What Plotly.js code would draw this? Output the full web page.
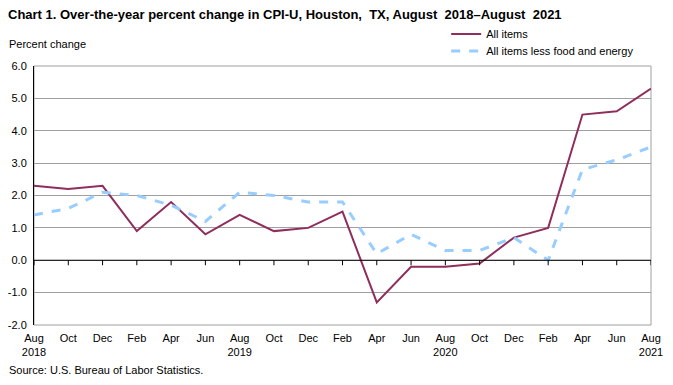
<!DOCTYPE html>
<html><head><meta charset="utf-8">
<script src="https://cdn.plot.ly/plotly-3.0.1.min.js"></script>
<style>html,body{margin:0;padding:0;background:#fff}#chart{width:673px;height:385px}</style>
</head><body><div id="chart"></div>
<script>
const months = ["Aug","Oct","Dec","Feb","Apr","Jun","Aug","Oct","Dec","Feb","Apr","Jun","Aug","Oct","Dec","Feb","Apr","Jun","Aug"];
const years  = ["2018","","","","","","2019","","","","","","2020","","","","","","2021"];
const allItems = [2.3,2.2,2.3,0.9,1.8,0.8,1.4,0.9,1.0,1.5,-1.3,-0.2,-0.2,-0.1,0.7,1.0,4.5,4.6,5.3];
const core     = [1.4,1.6,2.1,2.0,1.7,1.2,2.1,2.0,1.8,1.8,0.2,0.8,0.3,0.3,0.7,0.0,2.8,3.1,3.5];
const yTicks = [-2,-1,0,1,2,3,4,5,6];

const idx = months.map((_, i) => i);
const tickText = months.map((m, i) => years[i] ? m + "<br>" + years[i] : m);

const font = {family: "Liberation Sans, Arial, sans-serif", size: 11, color: "#000"};

const traces = [
  {x: idx, y: allItems, name: "All items", mode: "lines", type: "scatter",
   line: {color: "#8f2d5c", width: 2}, legend: "legend"},
  {x: idx, y: core, name: "All items less food and energy", mode: "lines", type: "scatter",
   line: {color: "#99ccff", width: 3, dash: "dash"}, legend: "legend2"}
];

const shapes = [
  {type: "rect", xref: "paper", yref: "paper", x0: 0, x1: 1, y0: 0, y1: 1,
   line: {color: "#a0a0a0", width: 1}, layer: "below"},
  {type: "line", xref: "paper", yref: "y", x0: 0, x1: 1, y0: 0, y1: 0,
   line: {color: "#000", width: 1}}
];
idx.forEach(i => {
  shapes.push({type: "line", xref: "x", yref: "y", ysizemode: "pixel", yanchor: 0,
    x0: i, x1: i, y0: 0, y1: -5, line: {color: "#000", width: 1}});
});

const legendBase = {x: 0.668, xanchor: "left", yanchor: "middle", bgcolor: "rgba(0,0,0,0)",
  font: {family: font.family, size: 11, color: "#000"}, borderwidth: 0};

const layout = {
  width: 673, height: 385,
  margin: {l: 34, r: 22, t: 66, b: 60, autoexpand: false},
  paper_bgcolor: "#fff", plot_bgcolor: "#fff",
  font: font,
  showlegend: true,
  legend: Object.assign({}, legendBase, {y: 1 + (66 - 34) / 259}),
  legend2: Object.assign({}, legendBase, {y: 1 + (66 - 51) / 259}),
  title: {text: "<b>Chart 1. Over-the-year percent change in CPI-U, Houston,  TX, August  2018–August  2021</b>",
    x: 8/673, xanchor: "left", xref: "container", y: 1 - 14/385, yref: "container", yanchor: "middle",
    font: {family: "Liberation Sans, Arial, sans-serif", size: 13, color: "#000"}},
  xaxis: {range: [0, 18], tickmode: "array", tickvals: idx, ticktext: tickText,
    showgrid: false, zeroline: false, showline: false, ticks: "",
    ticklabelstandoff: 5, tickfont: font, fixedrange: true},
  yaxis: {range: [-2, 6], tickmode: "array", tickvals: yTicks,
    ticktext: yTicks.map(v => v.toFixed(1)),
    showgrid: true, gridcolor: "#a0a0a0", gridwidth: 1, zeroline: false,
    showline: true, linecolor: "#000", linewidth: 1, ticks: "", ticklen: 0,
    ticklabelstandoff: 4, tickfont: font, fixedrange: true},
  shapes: shapes,
  annotations: [
    {text: "Percent change", xref: "paper", yref: "paper", x: -0.043, y: 1 + (66 - 44) / 259,
     xanchor: "left", yanchor: "middle", showarrow: false, font: font},
    {text: "Source: U.S. Bureau of Labor Statistics.", xref: "paper", yref: "paper",
     x: -0.043, y: -(370 - 325) / 259, xanchor: "left", yanchor: "middle", showarrow: false, font: font}
  ]
};

Plotly.newPlot("chart", traces, layout, {displayModeBar: false, staticPlot: true});
</script></body></html>
